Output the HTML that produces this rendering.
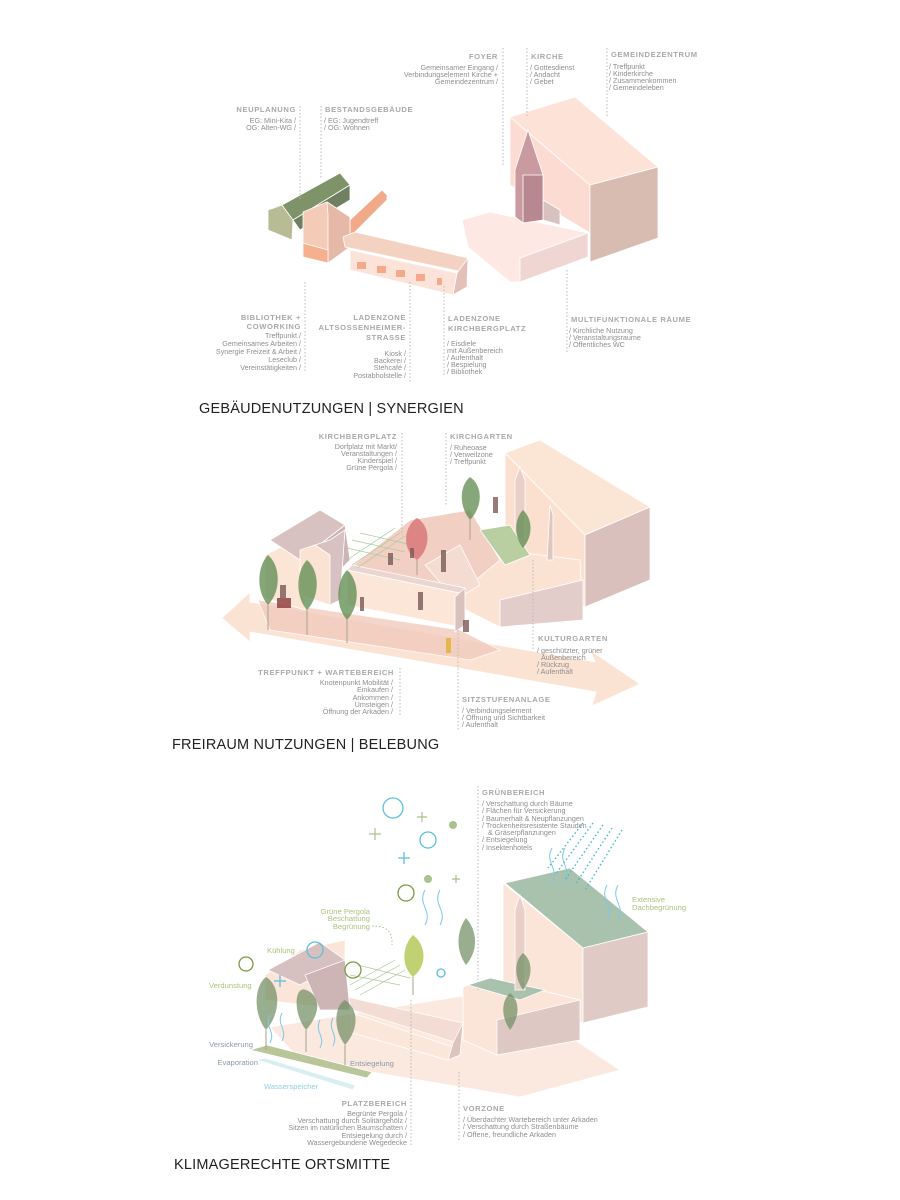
<!DOCTYPE html>
<html><head><meta charset="utf-8">
<style>
html,body{margin:0;padding:0;background:#fff;}
svg{display:block;}
text{font-family:"Liberation Sans","DejaVu Sans",sans-serif;}
.h{font-size:7.6px;font-weight:bold;fill:#a8a8a8;letter-spacing:0.6px;}
.t{font-size:7.2px;fill:#8e8e8e;}
.g{font-size:7.6px;fill:#a9c27a;}
.b{font-size:7.6px;fill:#8fd0dc;}
.gr{font-size:7.6px;fill:#8a9aa8;}
.T{font-size:14.5px;fill:#222;letter-spacing:0.2px;}
.d{stroke:#b8b8b8;stroke-width:1;stroke-dasharray:1.5,2;fill:none;}
.w{stroke:#fff;stroke-width:0.8;}
</style></head><body>
<svg width="900" height="1200" viewBox="0 0 900 1200" xmlns="http://www.w3.org/2000/svg">
<!-- ========== SECTION 1 ========== -->
<g class="w">
<polygon points="462,220 490,212 588,233 588,257 520,282 510,282 468,247" fill="#fde8e4"/>
<polygon points="520,282 588,257 588,233 520,258" fill="#f0d6d3"/>
<polygon points="510,117 510,185 590,233 590,185" fill="#fcdcd2"/>
<polygon points="510,117 575,97 658,167 590,185" fill="#fde2d8"/>
<polygon points="590,185 658,167 658,238 590,262" fill="#d9bcb1"/>
<polygon points="543,200 560,210 560,225 543,220" fill="#d8c2c0"/>
<polygon points="515,170 528,130 543,175 543,220 523,223 515,217" fill="#c99aa0"/>
<polygon points="523,175 543,175 543,220 523,223" fill="#b88890"/>
<polygon points="268,210 282,205 293,220 292,240 268,230" fill="#b8bc95"/>
<polygon points="282,205 340,173 350,185 293,220" fill="#7e9468"/>
<polygon points="293,220 350,185 350,200 300,230" fill="#6e8060"/>
<polygon points="350,220 382,190 387,195 387,200 350,237" fill="#f2a98a"/>
<polygon points="303,212 327,202 350,217 350,247 328,263 303,257" fill="#f4cbb6"/>
<polygon points="327,202 350,217 350,247 328,263 328,215" fill="#e6b8a8"/>
<polygon points="303,243 328,250 328,263 303,257" fill="#f5b08e"/>
<polygon points="343,237 355,232 468,258 463,272 345,247" fill="#f4d2c2"/>
<polygon points="350,250 457,273 453,295 350,270" fill="#fbe3da"/>
<polygon points="457,273 468,258 467,287 453,295" fill="#e3c1b8"/>
</g>
<g fill="#f3a98a">
<rect x="357" y="262" width="9" height="7"/><rect x="377" y="266" width="9" height="7"/><rect x="396" y="270" width="9" height="7"/><rect x="416" y="274" width="9" height="7"/><rect x="437" y="278" width="5" height="7"/>
</g>
<path class="d" d="M503 48V166M527 48V116M607 48V118M300 106V200M321 106V178M305 282V372M410 282V382M444 286V376M567 270V352"/>
<g text-anchor="end">
<text class="h" x="498" y="59">FOYER</text>
<text class="t" x="498" y="70">Gemeinsamer Eingang /</text>
<text class="t" x="498" y="77">Verbindungselement Kirche +</text>
<text class="t" x="498" y="84">Gemeindezentrum /</text>
<text class="h" x="296" y="112">NEUPLANUNG</text>
<text class="t" x="296" y="123">EG: Mini-Kita /</text>
<text class="t" x="296" y="130">OG: Alten-WG /</text>
<text class="h" x="301" y="320">BIBLIOTHEK +</text>
<text class="h" x="301" y="329">COWORKING</text>
<text class="t" x="301" y="338">Treffpunkt /</text>
<text class="t" x="301" y="346">Gemeinsames Arbeiten /</text>
<text class="t" x="301" y="354">Synergie Freizeit &amp; Arbeit /</text>
<text class="t" x="301" y="362">Leseclub /</text>
<text class="t" x="301" y="370">Vereinstätigkeiten /</text>
<text class="h" x="406" y="320">LADENZONE</text>
<text class="h" x="406" y="330">ALTSOSSENHEIMER-</text>
<text class="h" x="406" y="340">STRASSE</text>
<text class="t" x="406" y="356">Kiosk /</text>
<text class="t" x="406" y="363">Backerei /</text>
<text class="t" x="406" y="370">Stehcafé /</text>
<text class="t" x="406" y="378">Postabholstelle /</text>
</g>
<text class="h" x="531" y="59">KIRCHE</text>
<text class="t" x="530" y="70">/ Gottesdienst</text>
<text class="t" x="530" y="77">/ Andacht</text>
<text class="t" x="530" y="84">/ Gebet</text>
<text class="h" x="611" y="57">GEMEINDEZENTRUM</text>
<text class="t" x="609" y="69">/ Treffpunkt</text>
<text class="t" x="609" y="76">/ Kinderkirche</text>
<text class="t" x="609" y="83">/ Zusammenkommen</text>
<text class="t" x="609" y="90">/ Gemeindeleben</text>
<text class="h" x="325" y="112">BESTANDSGEBÄUDE</text>
<text class="t" x="324" y="123">/ EG: Jugendtreff</text>
<text class="t" x="324" y="130">/ OG: Wohnen</text>
<text class="h" x="448" y="321">LADENZONE</text>
<text class="h" x="448" y="331">KIRCHBERGPLATZ</text>
<text class="t" x="447" y="346">/ Eisdiele</text>
<text class="t" x="447" y="353">mit Außenbereich</text>
<text class="t" x="447" y="360">/ Aufenthalt</text>
<text class="t" x="447" y="367">/ Bespielung</text>
<text class="t" x="447" y="374">/ Bibliothek</text>
<text class="h" x="571" y="322">MULTIFUNKTIONALE RÄUME</text>
<text class="t" x="569" y="333">/ Kirchliche Nutzung</text>
<text class="t" x="569" y="340">/ Veranstaltungsraume</text>
<text class="t" x="569" y="347">/ Öffentliches WC</text>
<text class="T" x="199" y="413">GEBÄUDENUTZUNGEN | SYNERGIEN</text>

<!-- ========== SECTION 2 ========== -->
<g class="w">
<polygon points="222,618 250,592 250,602 595,662 590,650 640,684 592,706 596,692 250,632 250,642" fill="#fbe3d3"/>
<polygon points="258,600 460,630 500,650 470,660 270,630" fill="#f2cbbe" opacity="0.8"/>
<polygon points="505,453 540,440 650,507 585,535" fill="#fbe6d6"/>
<polygon points="505,453 585,535 585,607 505,560" fill="#fbe0cf"/>
<polygon points="585,535 650,507 650,580 585,607" fill="#d9c0bd"/>
<polygon points="460,560 485,548 580,560 583,620 500,627 460,607" fill="#fbe3d3"/>
<polygon points="500,600 583,580 583,620 500,627" fill="#e2cdca"/>
<polygon points="520,467 525,480 525,555 515,555 515,480" fill="#e9cfc8"/>
<polygon points="550,505 553,515 553,560 547,560" fill="#e0c5c0"/>
<polygon points="347,570 410,520 470,510 500,560 460,593" fill="#f1cfc3"/>
<polygon points="480,530 510,525 530,555 505,565" fill="#b9cfa1"/>
<polygon points="425,565 460,545 480,585 455,600" fill="#f4dcd2"/>
<polygon points="347,570 460,593 460,627 347,605" fill="#fbe6d8"/>
<polygon points="347,570 352,565 465,588 460,593" fill="#e9d6d0"/>
<polygon points="455,597 465,588 465,625 455,632" fill="#d9c1bc"/>
<polygon points="265,555 285,545 305,560 305,610 265,598" fill="#fbe6d6"/>
<polygon points="270,540 320,510 345,525 300,560" fill="#d7c1c1"/>
<polygon points="300,560 345,525 350,560 320,590" fill="#cdb4b5"/>
<polygon points="300,550 315,545 330,555 330,605 300,595" fill="#fbe3d3"/>
<polygon points="315,545 330,540 345,530 340,600 330,605 330,555" fill="#d7c1c1"/>
</g>
<g fill="none" stroke="#a9c99a" stroke-width="0.7">
<path d="M347,560 L395,528 M352,565 L400,533 M357,568 L405,536 M347,548 L400,560 M352,540 L405,552 M360,533 L412,545"/>
</g>
<g fill="#5c8a4e" opacity="0.75">
<path d="M268,605 C255,590 258,565 268,555 C280,565 282,590 268,605Z"/>
<path d="M307,610 C294,595 297,570 307,560 C319,570 321,595 307,610Z"/>
<path d="M347,620 C334,605 337,580 347,570 C359,580 361,605 347,620Z"/>
<path d="M470,520 C458,505 460,485 470,477 C482,485 484,505 470,520Z"/>
<path d="M523,548 C513,535 515,518 523,510 C532,518 534,535 523,548Z"/>
</g>
<path d="M417,560 C400,548 405,525 417,518 C430,525 432,548 417,560Z" fill="#d9787a" opacity="0.85"/>
<g stroke="#a7a38d" stroke-width="1"><path d="M268,605V630M307,610V635M347,620V643M417,560V575M470,520V540"/></g>
<g fill="#7a5a58" opacity="0.8">
<rect x="280" y="585" width="6" height="14"/><rect x="277" y="598" width="14" height="10" fill="#8a3a3a"/>
<rect x="418" y="592" width="5" height="18"/><rect x="441" y="550" width="5" height="22"/><rect x="463" y="620" width="6" height="12"/>
<rect x="446" y="638" width="5" height="15" fill="#e0b030"/><rect x="388" y="553" width="5" height="12"/><rect x="410" y="548" width="4" height="10"/>
<rect x="493" y="497" width="5" height="16"/><rect x="360" y="597" width="4" height="14"/>
</g>
<path class="d" d="M402,433V535M446,433V505M400,668V716M458,630V730M533,560V650"/>
<g text-anchor="end">
<text class="h" x="397" y="439">KIRCHBERGPLATZ</text>
<text class="t" x="397" y="449">Dorfplatz mit Markt/</text>
<text class="t" x="397" y="456">Veranstaltungen /</text>
<text class="t" x="397" y="463">Kinderspiel /</text>
<text class="t" x="397" y="470">Grüne Pergola /</text>
<text class="h" x="394" y="675">TREFFPUNKT + WARTEBEREICH</text>
<text class="t" x="393" y="685">Knotenpunkt Mobilität /</text>
<text class="t" x="393" y="692">Einkaufen /</text>
<text class="t" x="393" y="700">Ankommen /</text>
<text class="t" x="393" y="707">Umsteigen /</text>
<text class="t" x="393" y="714">Öffnung der Arkaden /</text>
</g>
<text class="h" x="450" y="439">KIRCHGARTEN</text>
<text class="t" x="450" y="450">/ Ruheoase</text>
<text class="t" x="450" y="457">/ Verweilzone</text>
<text class="t" x="450" y="464">/ Treffpunkt</text>
<text class="h" x="538" y="641">KULTURGARTEN</text>
<text class="t" x="537" y="653">/ geschützter, grüner</text>
<text class="t" x="541" y="660">Außenbereich</text>
<text class="t" x="537" y="667">/ Rückzug</text>
<text class="t" x="537" y="674">/ Aufenthalt</text>
<text class="h" x="462" y="702">SITZSTUFENANLAGE</text>
<text class="t" x="462" y="713">/ Verbindungselement</text>
<text class="t" x="462" y="720">/ Öffnung und Sichtbarkeit</text>
<text class="t" x="462" y="727">/ Aufenthalt</text>
<text class="T" x="172" y="749">FREIRAUM NUTZUNGEN | BELEBUNG</text>

<!-- ========== SECTION 3 ========== -->
<g class="w">
<polygon points="270,1027 500,990 620,1070 520,1097 300,1060" fill="#fbe5da" opacity="0.85"/>
<!-- big block -->
<polygon points="503,883 583,948 583,1023 503,990" fill="#fbe4d8"/>
<polygon points="505,883 570,868 648,932 583,948" fill="#a9c2ae"/>
<polygon points="583,948 648,932 648,1007 583,1023" fill="#e0cac6"/>
<polygon points="463,987 490,978 580,1000 580,1040 497,1055 463,1040" fill="#fbe4d8"/>
<polygon points="468,985 490,978 545,990 520,1000" fill="#a9c2ae"/>
<polygon points="497,1020 580,1000 580,1040 497,1055" fill="#ddc8c4"/>
<polygon points="520,895 525,910 525,990 515,990 515,910" fill="#e9cfc8"/>
<polygon points="347,997 463,1023 457,1043 353,1010" fill="#f3dcd3"/>
<polygon points="352,1013 453,1047 448,1060 352,1033" fill="#fbe6da"/>
<polygon points="453,1043 463,1023 460,1055 448,1060" fill="#dcc3bd"/>
<polygon points="265,975 300,950 345,940 345,1010 265,1000" fill="#fbe4d8"/>
<polygon points="268,970 320,942 345,960 300,985" fill="#d6c0c0"/>
<polygon points="305,975 345,960 350,1010 320,1010" fill="#cdb4b5"/>
<polygon points="250,1050 267,1045 372,1072 367,1078" fill="#b8c69a"/>
<polygon points="257,1060 265,1058 355,1085 353,1090" fill="#d8eef0"/>
</g>
<g fill="none" stroke="#a9c99a" stroke-width="0.7">
<path d="M350,985 L395,960 M355,990 L400,965 M360,995 L405,970 M350,975 L400,985 M358,965 L410,978"/>
</g>
<g fill="#6e8c60" opacity="0.7">
<path d="M266,1030 C252,1012 255,985 266,977 C280,985 282,1012 266,1030Z"/>
<path d="M306,1030 C292,1012 295,985 306,990 C320,995 322,1012 306,1030Z"/>
<path d="M345,1045 C332,1028 335,1005 345,1000 C358,1008 360,1028 345,1045Z"/>
<path d="M466,965 C455,950 457,930 466,918 C477,930 479,950 466,965Z"/>
<path d="M523,990 C513,975 515,960 523,953 C532,960 534,975 523,990Z"/>
<path d="M510,1030 C500,1015 502,1000 510,993 C519,1000 521,1015 510,1030Z"/>
</g>
<path d="M413,977 C400,965 403,945 413,935 C426,945 428,965 413,977Z" fill="#b5c95a" opacity="0.85"/>
<g stroke="#a7a38d" stroke-width="1"><path d="M266,1030V1050M306,1030V1052M345,1045V1065M413,977V995"/></g>
<g fill="none" stroke="#5dbde0" stroke-width="1.3">
<circle cx="393" cy="808" r="10"/><circle cx="428" cy="840" r="8"/><circle cx="315" cy="950" r="8"/><circle cx="441" cy="973" r="4"/>
<path d="M404,852v12M398,858h12"/><path d="M280,975v12M274,981h12"/>
</g>
<g fill="none" stroke="#7a9a40" stroke-width="1.3">
<circle cx="406" cy="893" r="8"/><circle cx="246" cy="964" r="7"/><circle cx="353" cy="970" r="8"/>
</g>
<g stroke="#a9c28e" stroke-width="1.2"><path d="M375,828v12M369,834h12M422,812v10M417,817h10M456,875v8M452,879h8"/></g>
<g fill="#a9c28e"><circle cx="453" cy="825" r="4"/><circle cx="428" cy="879" r="4"/></g>
<g fill="none" stroke="#7cc8e6" stroke-width="1">
<path d="M425,890 c-8,15 8,20 0,35 M440,890 c-8,15 8,20 0,35 M552,848 c-8,15 8,20 0,35 M565,848 c-8,15 8,20 0,35 M607,885 c-8,15 8,20 0,35 M618,885 c-8,15 8,20 0,35"/>
<path d="M270,1015 c-6,12 6,16 0,28 M282,1013 c-6,12 6,16 0,28 M320,1020 c-6,12 6,16 0,28 M333,1018 c-6,12 6,16 0,28"/>
</g>
<g stroke="#4ab8c8" stroke-width="1.4" stroke-dasharray="1.5,2.5">
<path d="M583,823 L548,868 M593,823 L555,875 M603,825 L565,880 M612,828 L575,885 M622,830 L585,890"/>
</g>
<path d="M372,926 C385,926 393,930 392,945" fill="none" stroke="#a9c28e" stroke-dasharray="1.5,2"/>
<path class="d" d="M478,786V990M411,1000V1145M459,1072V1140"/>
<text class="h" x="482" y="795">GRÜNBEREICH</text>
<text class="t" x="482" y="806">/ Verschattung durch Bäume</text>
<text class="t" x="482" y="813">/ Flächen für Versickerung</text>
<text class="t" x="482" y="821">/ Baumerhalt &amp; Neupflanzungen</text>
<text class="t" x="482" y="828">/ Trockenheitsresistente Stauden</text>
<text class="t" x="488" y="835">&amp; Gräserpflanzungen</text>
<text class="t" x="482" y="842">/ Entsiegelung</text>
<text class="t" x="482" y="850">/ Insektenhotels</text>
<text class="g" x="632" y="902">Extensive</text>
<text class="g" x="632" y="910">Dachbegrünung</text>
<g text-anchor="end">
<text class="g" x="370" y="914">Grüne Pergola</text>
<text class="g" x="370" y="921">Beschattung</text>
<text class="g" x="370" y="929">Begrünung</text>
<text class="gr" x="253" y="1047">Versickerung</text>
<text class="gr" x="258" y="1065">Evaporation</text>
<text class="h" x="407" y="1106">PLATZBEREICH</text>
<text class="t" x="407" y="1116">Begrünte Pergola /</text>
<text class="t" x="407" y="1123">Verschattung durch Solitärgehölz /</text>
<text class="t" x="407" y="1130">Sitzen im natürlichen Baumschatten /</text>
<text class="t" x="407" y="1138">Entsiegelung durch /</text>
<text class="t" x="407" y="1145">Wassergebundene Wegedecke</text>
</g>
<text class="g" x="267" y="953">Kühlung</text>
<text class="g" x="209" y="988">Verdunstung</text>
<text class="gr" x="350" y="1066">Entsiegelung</text>
<text class="b" x="264" y="1089">Wasserspeicher</text>
<text class="h" x="463" y="1111">VORZONE</text>
<text class="t" x="463" y="1122">/ Überdachter Wartebereich unter Arkaden</text>
<text class="t" x="463" y="1129">/ Verschattung durch Straßenbäume</text>
<text class="t" x="463" y="1137">/ Offene, freundliche Arkaden</text>
<text class="T" x="174" y="1169">KLIMAGERECHTE ORTSMITTE</text>
</svg>
</body></html>
